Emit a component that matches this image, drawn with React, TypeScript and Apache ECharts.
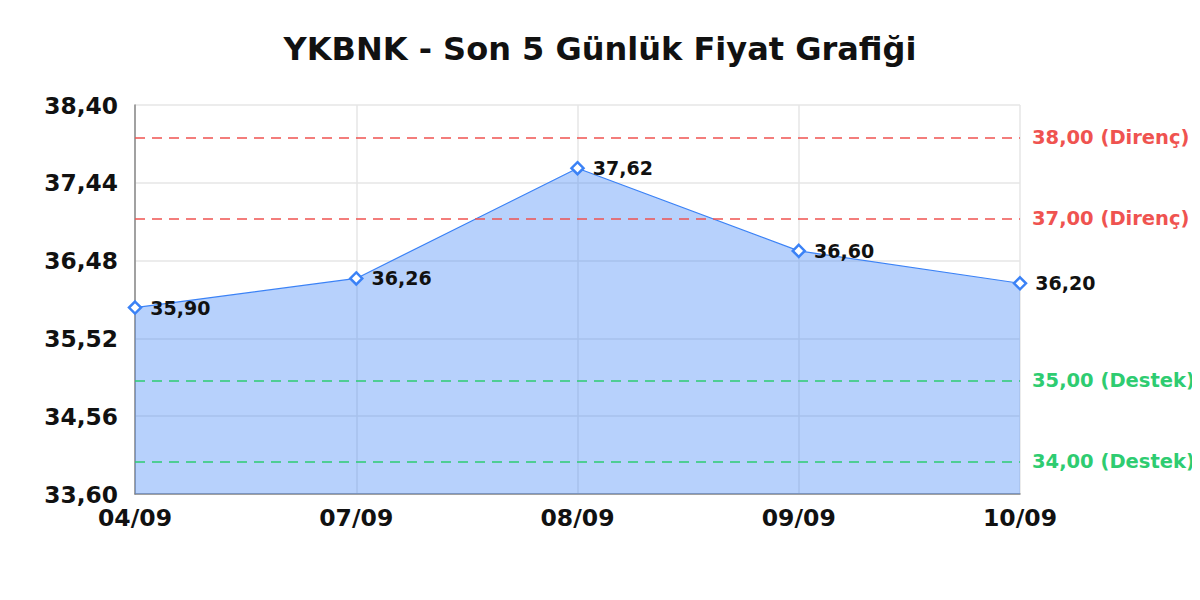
import * as echarts from "echarts";
import React, { useEffect, useRef } from "react";

const days = ["04/09", "07/09", "08/09", "09/09", "10/09"];
const closePrices = [35.9, 36.26, 37.62, 36.6, 36.2];
const resistanceLevels = [38, 37];
const supportLevels = [35, 34];
const yMin = 33.6;
const yMax = 38.4;
const yStep = 0.96;

const FONT = "DejaVu Sans";
const fmt = (v: number) => v.toFixed(2).replace(".", ",");

const levelLine = (value: number, tag: string, color: string) => ({
  yAxis: value,
  lineStyle: { color, type: [10, 7], width: 1.5 },
  label: {
    show: true,
    position: "end",
    distance: 12,
    formatter: `${fmt(value)} (${tag})`,
    color,
    fontFamily: FONT,
    fontWeight: "bold",
    fontSize: 19.5,
  },
});

const App: React.FC = () => {
  const chartRef = useRef<HTMLDivElement | null>(null);

  useEffect(() => {
    const chart = echarts.init(chartRef.current, null, { renderer: "svg" });
    chart.setOption({
      animation: false,
      backgroundColor: "#ffffff",
      title: {
        text: "YKBNK - Son 5 Günlük Fiyat Grafiği",
        left: "center",
        top: 28,
        textStyle: {
          fontFamily: FONT,
          fontWeight: "bold",
          fontSize: 32,
          color: "#111",
        },
      },
      grid: { left: 135, right: 180, top: 105, bottom: 106 },
      xAxis: {
        type: "category",
        data: days,
        boundaryGap: false,
        axisLine: { lineStyle: { color: "#888", width: 1.5 } },
        axisTick: { show: false },
        splitLine: { show: true, lineStyle: { color: "#e6e6e6", width: 1.5 } },
        axisLabel: {
          margin: 12,
          fontFamily: FONT,
          fontWeight: "bold",
          fontSize: 23.5,
          color: "#111",
        },
      },
      yAxis: {
        type: "value",
        min: yMin,
        max: yMax,
        interval: yStep,
        axisLine: { show: true, lineStyle: { color: "#888", width: 1.5 } },
        axisTick: { show: false },
        splitLine: { show: true, lineStyle: { color: "#e6e6e6", width: 1.5 } },
        axisLabel: {
          margin: 17,
          formatter: (v: number) => fmt(v),
          fontFamily: FONT,
          fontWeight: "bold",
          fontSize: 23.3,
          color: "#111",
        },
      },
      series: [
        {
          type: "line",
          data: closePrices,
          symbol: "diamond",
          symbolSize: 12,
          lineStyle: { color: "#3b82f6", width: 1.2 },
          itemStyle: { color: "#ffffff", borderColor: "#3b82f6", borderWidth: 2.5 },
          areaStyle: { color: "rgba(59,130,246,0.37)", opacity: 1 },
          label: {
            show: true,
            position: "right",
            distance: 8,
            formatter: (p: any) => fmt(p.value),
            fontFamily: FONT,
            fontWeight: "bold",
            fontSize: 19,
            color: "#111",
          },
          markLine: {
            silent: true,
            symbol: ["none", "none"],
            data: [
              ...resistanceLevels.map((v) => levelLine(v, "Direnç", "#ef5350")),
              ...supportLevels.map((v) => levelLine(v, "Destek", "#2ecc71")),
            ],
          },
        },
      ],
    });
    return () => chart.dispose();
  }, []);

  return (
    <div style={{ margin: -8 }}>
      <div ref={chartRef} style={{ width: 1200, height: 600 }} />
    </div>
  );
};

export default App;
